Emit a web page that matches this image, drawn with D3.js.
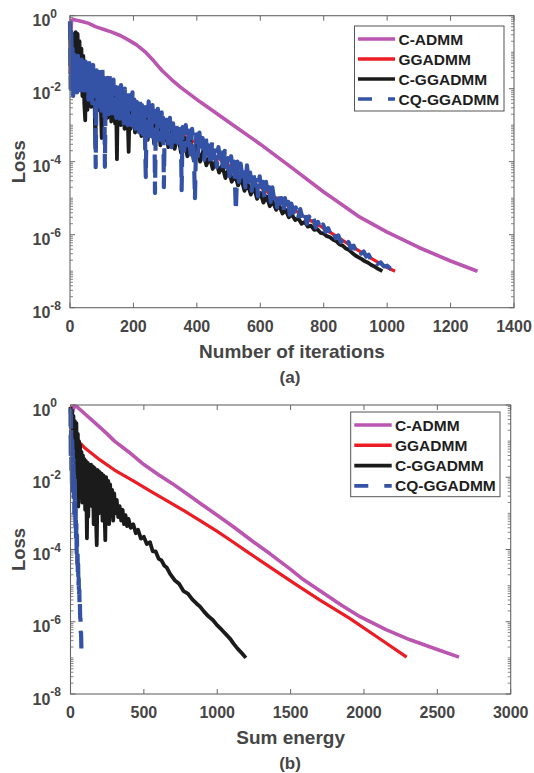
<!DOCTYPE html>
<html><head><meta charset="utf-8">
<script src="https://cdn.jsdelivr.net/npm/d3@7"></script>
<style>
html,body{margin:0;padding:0;background:#fff;}
svg{display:block;font-family:"Liberation Sans",Arial,Helvetica,sans-serif;font-weight:bold;}
</style></head>
<body>
<script>
// ---------------- DATA (loss stored as log10 exponent) ----------------
const seriesNames = ["C-ADMM", "GGADMM", "C-GGADMM", "CQ-GGADMM"];
const topXTicks = [0, 200, 400, 600, 800, 1000, 1200, 1400];
const bottomXTicks = [0, 500, 1000, 1500, 2000, 2500, 3000];
const yTickExponents = [0, -2, -4, -6, -8];
const topXLabel = "Number of iterations";
const bottomXLabel = "Sum energy";
const yLabel = "Loss";
const captions = ["(a)", "(b)"];

// (a) loss vs iterations: [iteration, log10(loss)]
const topCADMM = [[0,-1.6],[2,-0.6],[5,-0.15],[10,-0.1],[17,-0.12],[38,-0.16],[59,-0.21],[80,-0.3],[105,-0.37],[132,-0.45],[160,-0.55],[185,-0.67],[210,-0.8],[237,-0.99],[265,-1.25],[290,-1.5],[320,-1.75],[350,-1.97],[410,-2.36],[515,-3.0],[600,-3.52],[700,-4.17],[800,-4.83],[850,-5.13],[914,-5.52],[1000,-5.93],[1100,-6.35],[1200,-6.72],[1285,-7.0]];

const topGGADMM = [[0,-0.2],[5,-1.2],[10,-0.8],[20,-1.1],[30,-1.3],[40,-1.2],[53,-1.35],[65,-1.5],[75,-1.6],[90,-1.75],[110,-1.9],[130,-2.0],[150,-2.15],[175,-2.3],[200,-2.4],[250,-2.75],[300,-3.0],[350,-3.25],[400,-3.5],[450,-3.8],[500,-4.1],[550,-4.4],[600,-4.7],[650,-5.0],[700,-5.28],[750,-5.57],[800,-5.82],[850,-6.1],[900,-6.38],[950,-6.65],[1000,-6.9],[1025,-7.0]];

const topCGGADMM = [[0,-0.3],[3,-1.5],[6,-0.6],[9,-1.8],[12,-0.5],[15,-1.6],[18,-0.45],[21,-1.7],[24,-0.5],[27,-1.9],[30,-0.7],[33,-2.0],[36,-0.9],[39,-2.2],[42,-1.1],[45,-2.4],[48,-2.87],[51,-1.3],[55,-2.58],[58,-1.5],[61,-2.3],[64,-1.4],[67,-2.5],[70,-1.6],[73,-2.4],[76,-1.55],[80,-3.64],[83,-1.7],[86,-2.6],[89,-1.6],[92,-2.5],[95,-1.8],[100,-3.35],[103,-1.75],[106,-2.7],[109,-1.9],[112,-2.6],[115,-1.85],[118,-2.8],[121,-2.0],[124,-2.7],[127,-1.95],[130,-2.9],[133,-2.1],[136,-2.75],[139,-2.0],[142,-2.95],[145,-2.2],[148,-3.93],[151,-2.15],[154,-2.9],[157,-2.3],[160,-3.0],[163,-2.2],[166,-2.85],[169,-2.4],[172,-3.1],[175,-2.3],[178,-2.95],[181,-2.5],[185,-3.73],[188,-2.45],[191,-3.1],[194,-2.6],[197,-3.0],[200,-2.5],[205,-3.2],[210,-2.7],[215,-3.1],[220,-2.65],[225,-3.3],[230,-2.8],[235,-3.2],[240,-2.75],[245,-3.4],[250,-2.9],[255,-3.3],[260,-2.85],[265,-3.5],[270,-3.0],[275,-3.4],[280,-2.95],[285,-3.55],[290,-3.1],[295,-3.45],[300,-3.05],[310,-3.6],[320,-3.15],[330,-3.65],[340,-3.25],[350,-3.75],[360,-3.35],[370,-3.85],[380,-3.45],[390,-3.95],[400,-3.55],[410,-4.0],[420,-3.7],[430,-4.1],[440,-3.85],[450,-4.2],[460,-3.95],[470,-4.3],[480,-4.1],[490,-4.45],[500,-4.2],[510,-4.55],[520,-4.35],[530,-4.65],[540,-4.45],[550,-4.8],[560,-4.6],[570,-4.9],[580,-4.7],[590,-5.02],[600,-4.85],[610,-5.12],[620,-4.95],[630,-5.22],[640,-5.1],[650,-5.32],[660,-5.2],[670,-5.42],[680,-5.32],[690,-5.52],[700,-5.45],[710,-5.6],[720,-5.55],[730,-5.7],[740,-5.65],[750,-5.78],[760,-5.75],[770,-5.87],[780,-5.85],[790,-5.95],[800,-5.97],[810,-6.04],[820,-6.07],[830,-6.14],[840,-6.18],[850,-6.27],[860,-6.3],[870,-6.38],[880,-6.42],[890,-6.5],[900,-6.57],[910,-6.62],[920,-6.67],[930,-6.73],[940,-6.77],[950,-6.83],[960,-6.87],[970,-6.93],[985,-7.0]];

const topCQGGADMM = [[0,-0.15],[2,-2.0],[4,-0.3],[6,-1.9],[8,-0.9],[10,-2.2],[13,-1.0],[16,-1.9],[19,-1.2],[22,-2.1],[25,-1.1],[28,-2.0],[31,-1.3],[34,-2.2],[37,-1.2],[40,-1.9],[43,-1.4],[46,-2.2],[49,-1.26],[52,-2.0],[55,-1.4],[58,-2.3],[61,-1.3],[64,-2.1],[67,-1.5],[70,-2.4],[73,-1.35],[76,-2.2],[79,-1.6],[81,-4.15],[84,-1.5],[87,-2.5],[90,-1.4],[93,-2.3],[96,-1.6],[99,-2.6],[102,-1.45],[105,-2.4],[108,-1.7],[110,-4.14],[113,-1.6],[116,-2.5],[119,-1.7],[122,-2.7],[125,-1.65],[128,-2.4],[131,-1.9],[134,-2.8],[137,-1.75],[140,-2.6],[143,-1.95],[146,-2.8],[149,-1.8],[152,-2.6],[155,-2.0],[158,-2.9],[161,-1.9],[164,-2.7],[167,-2.1],[170,-2.95],[173,-2.0],[176,-2.8],[179,-2.2],[182,-3.0],[185,-2.05],[188,-2.7],[191,-2.25],[194,-3.0],[197,-2.1],[200,-2.9],[203,-2.3],[206,-3.1],[209,-2.2],[212,-2.9],[215,-2.4],[218,-3.2],[221,-2.25],[224,-3.0],[227,-2.45],[230,-3.25],[233,-2.35],[236,-3.1],[239,-4.42],[242,-2.5],[245,-3.2],[248,-2.35],[251,-3.3],[254,-2.6],[257,-3.1],[260,-2.45],[263,-3.35],[266,-2.6],[268,-4.86],[271,-2.7],[274,-3.3],[277,-2.55],[280,-3.4],[283,-2.75],[286,-3.2],[289,-2.65],[292,-3.5],[294,-2.8],[296,-4.7],[299,-2.75],[302,-3.45],[305,-2.85],[310,-3.5],[315,-2.8],[320,-3.6],[325,-2.95],[330,-3.45],[335,-2.9],[340,-3.65],[345,-3.0],[350,-3.5],[352,-4.78],[355,-3.05],[360,-3.7],[365,-3.0],[370,-3.55],[375,-3.15],[380,-3.8],[385,-3.1],[390,-3.6],[394,-5.0],[398,-3.25],[403,-3.85],[408,-3.2],[413,-3.7],[418,-3.35],[423,-3.95],[428,-3.3],[433,-3.8],[438,-3.5],[443,-4.1],[448,-3.45],[453,-3.9],[458,-3.6],[463,-4.15],[468,-3.6],[473,-4.0],[478,-3.75],[483,-4.3],[488,-3.7],[493,-4.15],[498,-3.9],[503,-4.4],[508,-3.85],[513,-4.3],[518,-4.0],[523,-5.33],[528,-4.0],[533,-4.55],[538,-4.05],[543,-4.4],[548,-4.15],[553,-4.7],[558,-4.1],[563,-4.55],[568,-4.3],[573,-4.8],[578,-4.25],[583,-4.65],[588,-4.4],[593,-4.95],[598,-4.4],[603,-4.8],[608,-4.55],[613,-5.0],[618,-4.55],[623,-4.9],[628,-4.7],[633,-5.1],[638,-4.7],[643,-5.0],[648,-4.85],[653,-5.25],[658,-4.85],[663,-5.15],[668,-5.0],[673,-5.35],[678,-5.0],[683,-5.3],[688,-5.1],[693,-5.45],[698,-5.15],[705,-5.4],[712,-5.25],[719,-5.55],[726,-5.3],[733,-5.55],[740,-5.4],[747,-5.7],[754,-5.5],[761,-5.65],[768,-5.55],[775,-5.8],[782,-5.65],[790,-5.85],[798,-5.72],[806,-5.92],[814,-5.82],[822,-6.0],[830,-5.92],[838,-6.1],[846,-6.02],[854,-6.2],[862,-6.12],[870,-6.28],[878,-6.2],[886,-6.38],[894,-6.3],[902,-6.45],[910,-6.38],[918,-6.52],[926,-6.46],[934,-6.6],[942,-6.55],[950,-6.7],[960,-6.68],[970,-6.8],[980,-6.76],[990,-6.87],[1000,-6.85],[1010,-6.93],[1020,-6.94],[1030,-7.0]];

// (b) loss vs sum energy: [energy, log10(loss)]
const botCADMM = [[0,-0.9],[8,-0.3],[25,-0.03],[45,-0.05],[80,-0.18],[169,-0.5],[250,-0.8],[300,-1.0],[397,-1.3],[500,-1.65],[600,-1.93],[692,-2.17],[800,-2.48],[883,-2.72],[1000,-3.05],[1110,-3.37],[1250,-3.8],[1360,-4.12],[1500,-4.55],[1576,-4.8],[1700,-5.14],[1850,-5.55],[1973,-5.86],[2150,-6.22],[2314,-6.5],[2500,-6.77],[2648,-6.98]];

const botGGADMM = [[0,-0.05],[15,-0.4],[35,-0.75],[53,-1.0],[100,-1.2],[201,-1.52],[300,-1.8],[428,-2.1],[550,-2.4],[656,-2.65],[770,-2.92],[883,-3.2],[1000,-3.5],[1110,-3.8],[1200,-4.05],[1291,-4.3],[1400,-4.6],[1530,-4.95],[1700,-5.4],[1900,-5.9],[2100,-6.45],[2291,-6.98]];

const botCGGADMM = [[0,-0.05],[5,-0.5],[10,-0.15],[15,-0.9],[20,-0.3],[25,-1.3],[30,-0.45],[35,-1.6],[40,-0.5],[45,-2.0],[50,-0.8],[53,-2.81],[58,-1.0],[62,-2.5],[65,-1.1],[70,-2.3],[75,-1.3],[80,-2.7],[85,-1.4],[90,-2.4],[95,-1.5],[100,-2.9],[105,-1.55],[112,-3.69],[118,-1.6],[121,-3.09],[127,-1.7],[133,-2.6],[140,-1.65],[147,-2.8],[152,-1.7],[158,-3.3],[165,-1.75],[172,-2.9],[179,-3.88],[186,-1.8],[192,-3.0],[198,-1.85],[205,-2.7],[212,-1.9],[218,-3.2],[225,-1.95],[231,-2.8],[237,-3.74],[243,-2.0],[250,-3.0],[257,-2.1],[263,-3.3],[270,-2.2],[277,-2.9],[284,-2.35],[291,-3.2],[298,-2.45],[305,-3.0],[315,-2.63],[325,-3.1],[335,-2.8],[345,-3.2],[355,-2.9],[365,-3.3],[375,-3.05],[385,-3.35],[395,-3.15],[410,-3.4],[428,-3.3],[445,-3.55],[460,-3.45],[480,-3.7],[500,-3.65],[520,-3.85],[542,-3.8],[560,-4.05],[580,-4.05],[600,-4.25],[620,-4.3],[640,-4.45],[656,-4.5],[680,-4.68],[710,-4.85],[740,-4.95],[770,-5.15],[800,-5.22],[830,-5.38],[860,-5.5],[883,-5.58],[910,-5.72],[940,-5.85],[970,-5.95],[1000,-6.1],[1030,-6.22],[1060,-6.35],[1090,-6.48],[1110,-6.6],[1140,-6.75],[1170,-6.88],[1195,-7.0]];

const botCQGGADMM = [[0,-0.1],[2,-1.5],[4,-0.3],[6,-1.8],[8,-0.8],[10,-2.2],[12,-1.0],[14,-2.0],[16,-1.2],[18,-2.4],[20,-1.5],[22,-2.6],[24,-1.9],[26,-3.0],[28,-2.2],[30,-3.2],[32,-2.6],[34,-3.5],[36,-2.9],[38,-3.8],[40,-3.3],[42,-4.1],[44,-3.6],[46,-4.4],[48,-4.0],[50,-4.7],[52,-4.4],[54,-5.0],[56,-4.8],[58,-5.3],[60,-5.1],[62,-5.6],[64,-5.5],[66,-5.9],[68,-5.9],[70,-6.3],[72,-6.3],[74,-6.7],[76,-6.97]];

// ---------------- STYLE ----------------
const colors = ["#BA55B0", "#EC1C24", "#1B1B1B", "#3453A6"];
const widths = [3.6, 3.2, 3.8, 4.2];
const textGray = "#454545";
const axisGray = "#666";

const svg = d3.select("body").append("svg").attr("width", 534).attr("height", 773);

function drawPanel(cfg) {
  const g = svg.append("g");
  const x = d3.scaleLinear().domain(cfg.xDomain).range([cfg.left, cfg.right]);
  const y = d3.scaleLog().domain([1e-8, 1]).range([cfg.bottom, cfg.top]);

  // minor ticks on y (left + right)
  const minor = [];
  for (let k = -8; k < 0; k++) for (let j = 1; j <= 9; j++) {
    const v = j * Math.pow(10, k);
    if (j === 1 && yTickExponents.includes(k)) continue;
    minor.push(v);
  }
  g.selectAll(".mnl").data(minor).enter().append("line")
    .attr("x1", cfg.left).attr("x2", cfg.left + 3)
    .attr("y1", d => y(d)).attr("y2", d => y(d))
    .attr("stroke", axisGray).attr("stroke-width", 0.8);
  g.selectAll(".mnr").data(minor).enter().append("line")
    .attr("x1", cfg.right).attr("x2", cfg.right - 3)
    .attr("y1", d => y(d)).attr("y2", d => y(d))
    .attr("stroke", axisGray).attr("stroke-width", 0.8);
  // major y ticks
  g.selectAll(".mjl").data(yTickExponents).enter().append("line")
    .attr("x1", cfg.left).attr("x2", cfg.left + 5)
    .attr("y1", d => y(Math.pow(10, d))).attr("y2", d => y(Math.pow(10, d)))
    .attr("stroke", axisGray).attr("stroke-width", 1);
  g.selectAll(".mjr").data(yTickExponents).enter().append("line")
    .attr("x1", cfg.right).attr("x2", cfg.right - 5)
    .attr("y1", d => y(Math.pow(10, d))).attr("y2", d => y(Math.pow(10, d)))
    .attr("stroke", axisGray).attr("stroke-width", 1);
  // x ticks top + bottom
  g.selectAll(".xb").data(cfg.xTicks).enter().append("line")
    .attr("x1", d => x(d)).attr("x2", d => x(d))
    .attr("y1", cfg.bottom).attr("y2", cfg.bottom - 5)
    .attr("stroke", axisGray).attr("stroke-width", 1);
  g.selectAll(".xt").data(cfg.xTicks).enter().append("line")
    .attr("x1", d => x(d)).attr("x2", d => x(d))
    .attr("y1", cfg.top).attr("y2", cfg.top + 5)
    .attr("stroke", axisGray).attr("stroke-width", 1);

  // x tick labels
  g.selectAll(".xl").data(cfg.xTicks).enter().append("text")
    .attr("x", d => x(d)).attr("y", cfg.bottom + 24)
    .attr("text-anchor", "middle").attr("font-size", 16).attr("fill", textGray)
    .text(d => d);
  // y tick labels 10^k
  yTickExponents.forEach(k => {
    const ty = y(Math.pow(10, k));
    const t = g.append("text").attr("x", 32.5).attr("y", ty + 10.5)
      .attr("font-size", 16).attr("fill", textGray);
    t.append("tspan").text("10");
    t.append("tspan").attr("font-size", 12).attr("dy", -8.5).text(String(k));
  });

  // series
  const line = d3.line().x(d => x(d[0])).y(d => y(Math.pow(10, d[1])));
  cfg.series.forEach((s, i) => {
    g.append("path").datum(s).attr("d", line)
      .attr("fill", "none").attr("stroke", colors[i]).attr("stroke-width", widths[i])
      .attr("stroke-linejoin", "round")
      .attr("stroke-dasharray", i === 3 ? "18,9" : null);
  });

  // box
  g.append("rect").attr("x", cfg.left).attr("y", cfg.top)
    .attr("width", cfg.right - cfg.left).attr("height", cfg.bottom - cfg.top)
    .attr("fill", "none").attr("stroke", axisGray).attr("stroke-width", 1.1);

  // legend
  const L = cfg.legend;
  g.append("rect").attr("x", L.x).attr("y", L.y).attr("width", L.w).attr("height", L.h)
    .attr("fill", "#fff").attr("stroke", "#555").attr("stroke-width", 1);
  seriesNames.forEach((name, i) => {
    const ly = L.y + 13 + i * L.dy;
    g.append("line").attr("x1", L.lx1).attr("x2", L.lx2).attr("y1", ly).attr("y2", ly)
      .attr("stroke", colors[i]).attr("stroke-width", 3.6)
      .attr("stroke-dasharray", i === 3 ? "14,16" : null);
    g.append("text").attr("x", L.tx).attr("y", ly + 5.5)
      .attr("font-size", 15.5).attr("fill", "#1e1e1e").text(name);
  });

  // axis labels
  g.append("text").attr("x", (cfg.left + cfg.right) / 2).attr("y", cfg.bottom + 50)
    .attr("text-anchor", "middle").attr("font-size", 19).attr("fill", textGray).text(cfg.xLabel);
  g.append("text").attr("transform", `translate(24.5,${(cfg.top + cfg.bottom) / 2}) rotate(-90)`)
    .attr("text-anchor", "middle").attr("font-size", 18.5).attr("fill", textGray).text(yLabel);
  g.append("text").attr("x", 290).attr("y", cfg.bottom + 75)
    .attr("text-anchor", "middle").attr("font-size", 17).attr("fill", textGray).text(cfg.caption);
}

drawPanel({
  left: 70, right: 514, top: 15.7, bottom: 307.7,
  xDomain: [0, 1400], xTicks: topXTicks,
  series: [topCADMM, topGGADMM, topCGGADMM, topCQGGADMM],
  legend: {x: 354.5, y: 26, w: 149.5, h: 85, dy: 20, lx1: 358, lx2: 395, tx: 398.5},
  xLabel: topXLabel, caption: captions[0]
});
drawPanel({
  left: 70.5, right: 510.7, top: 405, bottom: 694,
  xDomain: [0, 3000], xTicks: bottomXTicks,
  series: [botCADMM, botGGADMM, botCGGADMM, botCQGGADMM],
  legend: {x: 350.7, y: 412, w: 149.3, h: 84.7, dy: 20.3, lx1: 354.3, lx2: 391.7, tx: 395},
  xLabel: bottomXLabel, caption: captions[1]
});
</script>
</body></html>
